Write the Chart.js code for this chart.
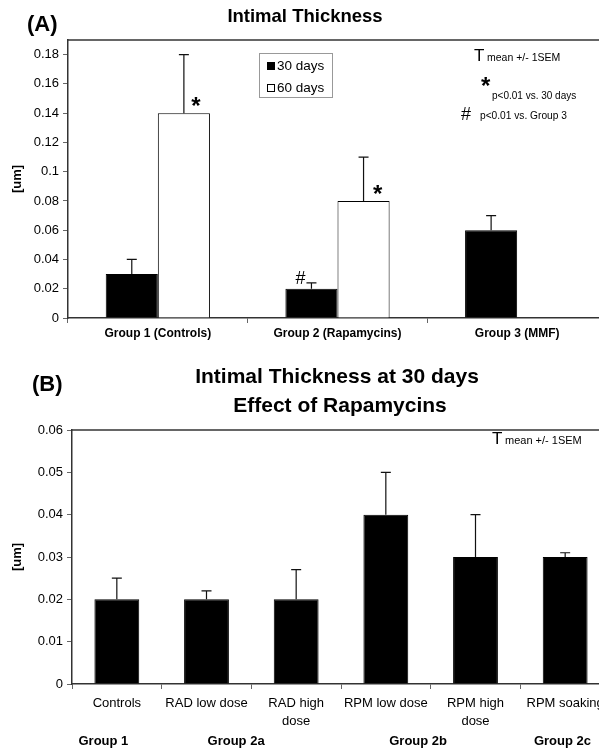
<!DOCTYPE html>
<html>
<head>
<meta charset="utf-8">
<script src="https://cdn.jsdelivr.net/npm/chart.js@4"></script>
<style>
  html, body { margin: 0; padding: 0; background: #fff; overflow: hidden; width: 599px; height: 750px; }
  canvas { position: absolute; left: 0; }
  #chartA { top: 0; }
  #chartB { top: 345px; }
</style>
</head>
<body>
<canvas id="chartA" width="615" height="345"></canvas>
<canvas id="chartB" width="615" height="405"></canvas>
<script>
// panel A data
const groupsA = ['Group 1 (Controls)', 'Group 2 (Rapamycins)', 'Group 3 (MMF)'];
const days30 = [0.03, 0.02, 0.06];
const days30Sem = [0.01, 0.004, 0.01];
const days60 = [0.14, 0.08, null];
const days60Sem = [0.04, 0.03, null];
const ticksA = [0, 0.02, 0.04, 0.06, 0.08, 0.1, 0.12, 0.14, 0.16, 0.18];

// panel B data
const treatmentsB = [['Controls'], ['RAD low dose'], ['RAD high', 'dose'], ['RPM low dose'], ['RPM high', 'dose'], ['RPM soaking']];
const thicknessB = [0.02, 0.02, 0.02, 0.04, 0.03, 0.03];
const semB = [0.005, 0.002, 0.007, 0.01, 0.01, 0.001];
const groupNamesB = ['Group 1', 'Group 2a', 'Group 2b', 'Group 2c'];
const groupAtB = [-0.15, 1.33, 3.36, 4.97];

Chart.defaults.font.family = '"Liberation Sans", Arial, sans-serif';
Chart.defaults.color = '#000';

const FONT = '"Liberation Sans", Arial, sans-serif';

// up-only error bars with a small cap
const errorBars = {
  id: 'errorBars',
  afterDatasetsDraw(chart, args, opts) {
    const ctx = chart.ctx;
    const y = chart.scales.y;
    ctx.save();
    ctx.strokeStyle = '#111';
    ctx.lineWidth = 1.2;
    opts.sems.forEach((sems, i) => {
      const meta = chart.getDatasetMeta(i);
      const vals = chart.data.datasets[i].data;
      meta.data.forEach((bar, j) => {
        if (vals[j] == null || sems[j] == null) return;
        const top = y.getPixelForValue(vals[j] + sems[j]);
        ctx.beginPath();
        ctx.moveTo(bar.x, bar.y);
        ctx.lineTo(bar.x, top);
        ctx.moveTo(bar.x - 5, top);
        ctx.lineTo(bar.x + 5, top);
        ctx.stroke();
      });
    });
    ctx.restore();
  }
};

// frame line on top, free texts, legend box, markers
const extras = {
  id: 'extras',
  afterDraw(chart, args, opts) {
    const ctx = chart.ctx;
    const a = chart.chartArea;
    ctx.save();
    ctx.strokeStyle = '#333';
    ctx.lineWidth = 1.5;
    ctx.beginPath();
    ctx.moveTo(a.left, a.top);
    ctx.lineTo(a.right, a.top);
    ctx.stroke();

    ctx.textBaseline = 'middle';
    ctx.fillStyle = '#000';
    (opts.texts || []).forEach(t => {
      ctx.font = t.font + ' ' + FONT;
      ctx.textAlign = t.align || 'left';
      ctx.fillText(t.text, t.x, t.y);
    });

    (opts.markers || []).forEach(m => {
      const bar = chart.getDatasetMeta(m.ds).data[m.idx];
      ctx.font = m.font + ' ' + FONT;
      ctx.textAlign = 'center';
      ctx.fillText(m.text, bar.x + m.dx, bar.y + m.dy);
    });

    if (opts.legend) {
      const L = opts.legend;
      ctx.lineWidth = 1;
      ctx.strokeStyle = '#999';
      ctx.strokeRect(L.x + 0.5, L.y + 0.5, L.w, L.h);
      L.items.forEach((it, k) => {
        const cy = L.y + 13 + k * 22;
        ctx.fillStyle = it.fill;
        ctx.fillRect(L.x + 8, cy - 4, 8, 8);
        ctx.strokeStyle = '#000';
        ctx.strokeRect(L.x + 8.5, cy - 3.5, 7, 7);
        ctx.fillStyle = '#000';
        ctx.font = '13.5px ' + FONT;
        ctx.textAlign = 'left';
        ctx.fillText(it.text, L.x + 18, cy);
      });
    }

    if (opts.groups) {
      const x = chart.scales.x;
      ctx.font = 'bold 13px ' + FONT;
      ctx.textAlign = 'center';
      opts.groups.names.forEach((g, k) => {
        ctx.fillText(g, x.getPixelForValue(opts.groups.at[k]), opts.groups.y);
      });
    }
    ctx.restore();
  }
};

const axisLook = {
  border: { display: true, color: '#333', width: 1.5 },
  grid: { drawOnChartArea: false, drawTicks: true, tickLength: 5, color: '#666' }
};

const fmt = v => String(+(+v).toFixed(3));

new Chart(document.getElementById('chartA'), {
  type: 'bar',
  data: {
    labels: groupsA,
    datasets: [
      { label: '30 days', data: days30, backgroundColor: '#000', borderColor: '#000', borderWidth: 1 },
      { label: '60 days', data: days60, backgroundColor: '#fff', borderColor: '#000', borderWidth: 1 }
    ]
  },
  options: {
    responsive: false,
    animation: false,
    layout: { padding: { top: 40, right: 8, bottom: 0, left: 0 } },
    datasets: { bar: { categoryPercentage: 0.58, barPercentage: 1 } },
    scales: {
      x: {
        ...axisLook,
        ticks: { font: { size: 12, weight: 'bold' }, padding: 3, maxRotation: 0 },
        afterFit(s) { s.height = 27; s.paddingLeft = 0; s.paddingRight = 0; }
      },
      y: {
        ...axisLook,
        min: 0, max: 0.19,
        ticks: { stepSize: 0.02, font: { size: 13 }, padding: 4, callback: fmt },
        afterBuildTicks(s) { s.ticks = ticksA.map(v => ({ value: v })); },
        title: { display: true, text: '[um]', font: { size: 13, weight: 'bold' }, padding: { top: 10 } },
        afterFit(s) { s.width = 68; }
      }
    },
    plugins: {
      legend: { display: false },
      tooltip: { enabled: false },
      errorBars: { sems: [days30Sem, days60Sem] },
      extras: {
        texts: [
          { text: '(A)', x: 27, y: 25, font: 'bold 22px' },
          { text: 'Intimal Thickness', x: 305, y: 17, font: 'bold 18.5px', align: 'center' },
          { text: 'T', x: 474, y: 56, font: '17px' },
          { text: 'mean +/- 1SEM', x: 487, y: 58, font: '10.5px' },
          { text: '*', x: 481, y: 87, font: 'bold 24px' },
          { text: 'p<0.01 vs. 30 days', x: 492, y: 96, font: '10px' },
          { text: '#', x: 461, y: 115, font: '18px' },
          { text: 'p<0.01 vs. Group 3', x: 480, y: 116, font: '10.2px' }
        ],
        markers: [
          { ds: 1, idx: 0, text: '*', dx: 12, dy: -6, font: 'bold 24px' },
          { ds: 1, idx: 1, text: '*', dx: 14, dy: -6, font: 'bold 24px' },
          { ds: 0, idx: 1, text: '#', dx: -11, dy: -10, font: '18px' }
        ],
        legend: {
          x: 259, y: 53, w: 73, h: 44,
          items: [{ text: '30 days', fill: '#000' }, { text: '60 days', fill: '#fff' }]
        }
      }
    }
  },
  plugins: [errorBars, extras]
});

new Chart(document.getElementById('chartB'), {
  type: 'bar',
  data: {
    labels: treatmentsB,
    datasets: [
      { label: '30 days', data: thicknessB, backgroundColor: '#000', borderColor: '#000', borderWidth: 1 }
    ]
  },
  options: {
    responsive: false,
    animation: false,
    layout: { padding: { top: 85, right: 5, bottom: 0, left: 0 } },
    datasets: { bar: { categoryPercentage: 1, barPercentage: 0.5 } },
    scales: {
      x: {
        ...axisLook,
        ticks: { font: { size: 13, lineHeight: 1.4 }, padding: 5, maxRotation: 0, autoSkip: false },
        afterFit(s) { s.height = 66; s.paddingLeft = 0; s.paddingRight = 0; }
      },
      y: {
        ...axisLook,
        min: 0, max: 0.06,
        ticks: { stepSize: 0.01, font: { size: 13 }, padding: 4, callback: fmt },
        title: { display: true, text: '[um]', font: { size: 13, weight: 'bold' }, padding: { top: 10 } },
        afterFit(s) { s.width = 72; }
      }
    },
    plugins: {
      legend: { display: false },
      tooltip: { enabled: false },
      errorBars: { sems: [semB] },
      extras: {
        texts: [
          { text: '(B)', x: 32, y: 40, font: 'bold 22px' },
          { text: 'Intimal Thickness at 30 days', x: 337, y: 32, font: 'bold 21px', align: 'center' },
          { text: 'Effect of Rapamycins', x: 340, y: 61, font: 'bold 21px', align: 'center' },
          { text: 'T', x: 492, y: 94, font: '17px' },
          { text: 'mean +/- 1SEM', x: 505, y: 96, font: '11px' }
        ],
        groups: { names: groupNamesB, at: groupAtB, y: 396 }
      }
    }
  },
  plugins: [errorBars, extras]
});
</script>
</body>
</html>
